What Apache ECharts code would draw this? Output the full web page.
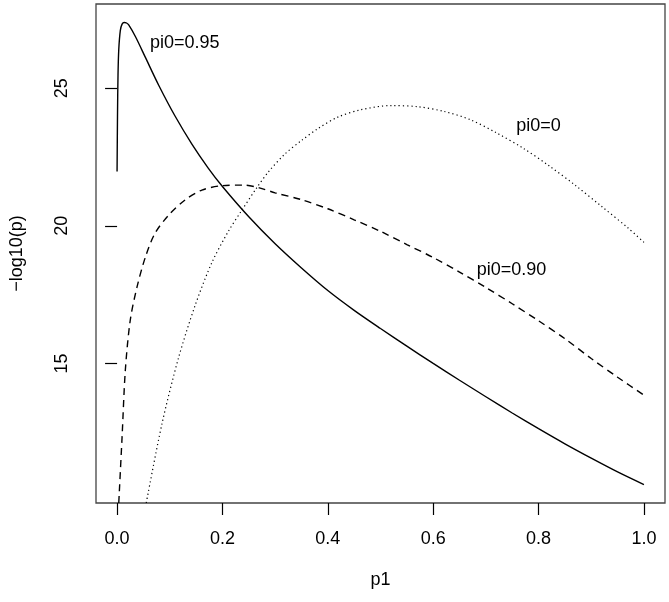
<!DOCTYPE html>
<html>
<head>
<meta charset="utf-8">
<script src="https://cdn.jsdelivr.net/npm/echarts@6/dist/echarts.min.js"></script>
<style>
html,body{margin:0;padding:0;background:#fff}
#chart{width:669px;height:602px}
</style>
</head>
<body>
<div id="chart"></div>
<script>
// tick marks
var xTicks = [0, 0.2, 0.4, 0.6, 0.8, 1.0];
var yTicks = [15, 20, 25];

// pi0=0.95 (solid)
var p1Solid  = [0, 0.0008, 0.0018, 0.0032, 0.0062, 0.0095, 0.0135, 0.018, 0.0221, 0.035, 0.054, 0.079, 0.11, 0.142, 0.173, 0.2, 0.25, 0.3, 0.35, 0.4, 0.45, 0.5, 0.55, 0.6, 0.65, 0.7, 0.75, 0.8, 0.85, 0.9, 0.95, 1.0];
var valSolid = [21.97, 24.0, 25.5, 26.4, 27.1, 27.33, 27.39, 27.37, 27.3, 26.87, 26.11, 25.11, 23.99, 22.97, 22.1, 21.43, 20.33, 19.35, 18.47, 17.65, 16.93, 16.27, 15.63, 15.0, 14.39, 13.79, 13.2, 12.63, 12.08, 11.56, 11.06, 10.6];

// pi0=0.90 (dashed)
var p1Dash  = [0.0032, 0.0095, 0.0157, 0.025, 0.038, 0.054, 0.072, 0.098, 0.129, 0.161, 0.2, 0.24, 0.27, 0.3, 0.35, 0.4, 0.45, 0.5, 0.55, 0.6, 0.65, 0.7, 0.75, 0.8, 0.85, 0.9, 0.95, 1.0];
var valDash = [9.93, 12.33, 14.76, 16.57, 17.79, 18.88, 19.73, 20.39, 20.94, 21.3, 21.46, 21.48, 21.38, 21.2, 20.95, 20.62, 20.22, 19.8, 19.32, 18.85, 18.32, 17.76, 17.17, 16.55, 15.9, 15.18, 14.5, 13.85];

// pi0=0 (dotted)
var p1Dot  = [0.0554, 0.0851, 0.1166, 0.148, 0.1796, 0.2112, 0.2363, 0.265, 0.2868, 0.318, 0.35, 0.381, 0.419, 0.463, 0.52, 0.57, 0.62, 0.67, 0.72, 0.77, 0.82, 0.87, 0.92, 0.97, 1.0];
var valDot = [9.93, 12.8, 15.2, 17.1, 18.65, 19.8, 20.55, 21.38, 21.95, 22.6, 23.1, 23.53, 23.95, 24.22, 24.37, 24.33, 24.16, 23.86, 23.38, 22.83, 22.18, 21.47, 20.7, 19.92, 19.4];

// curve labels
var labelText = ['pi0=0.95', 'pi0=0', 'pi0=0.90'];
var labelP1   = [0.1285, 0.80, 0.7486];
var labelVal  = [26.65, 23.63, 18.39];

var FONT = '"Liberation Sans", Arial, sans-serif';

function pairs(xs, ys){
    var out = [];
    for(var i = 0; i < xs.length; i++){
        out.push([xs[i], ys[i]]);
    }
    return out;
}

var chart = echarts.init(document.getElementById('chart'), null, {renderer: 'canvas'});

var option = {
    backgroundColor: '#fff',
    animation: false,
    grid: {
        left: 94, right: 4, top: 4, bottom: 99,
        show: true,
        borderColor: '#444',
        borderWidth: 1.3,
        backgroundColor: 'transparent'
    },
    xAxis: {
        type: 'value',
        min: -0.04,
        max: 1.04,
        name: 'p1',
        nameLocation: 'middle',
        nameGap: 68,
        nameTextStyle: {fontFamily: FONT, fontSize: 18, color: '#000'},
        axisLine: {show: false},
        splitLine: {show: false},
        axisTick: {show: true, customValues: xTicks, length: 12, inside: false, lineStyle: {color: '#000', width: 1.2}},
        axisLabel: {
            customValues: xTicks,
            margin: 27,
            fontFamily: FONT, fontSize: 18, color: '#000',
            formatter: function(v){ return v.toFixed(1); }
        }
    },
    yAxis: {
        type: 'value',
        min: 9.93,
        max: 28.06,
        name: '\u2212log10(p)',
        nameLocation: 'middle',
        nameGap: 70,
        nameTextStyle: {fontFamily: FONT, fontSize: 18, color: '#000'},
        axisLine: {show: false},
        splitLine: {show: false},
        axisTick: {show: true, customValues: yTicks, length: 12, inside: false, lineStyle: {color: '#000', width: 1.2}},
        axisLabel: {
            customValues: yTicks,
            rotate: 90,
            margin: 25,
            fontFamily: FONT, fontSize: 18, color: '#000'
        }
    },
    series: [
        {
            name: 'pi0=0.95',
            type: 'line',
            data: pairs(p1Solid, valSolid),
            showSymbol: false,
            smooth: 0.3,
            lineStyle: {color: '#000', width: 1.4, type: 'solid'}
        },
        {
            name: 'pi0=0.90',
            type: 'line',
            data: pairs(p1Dash, valDash),
            showSymbol: false,
            smooth: 0.3,
            lineStyle: {color: '#000', width: 1.4, type: [7, 5]}
        },
        {
            name: 'pi0=0',
            type: 'line',
            data: pairs(p1Dot, valDot),
            showSymbol: false,
            smooth: 0.3,
            lineStyle: {color: '#000', width: 1.2, type: [1.2, 3]}
        },
        {
            name: 'labels',
            type: 'scatter',
            symbolSize: 0,
            itemStyle: {opacity: 1},
            data: pairs(labelP1, labelVal).map(function(d, i){
                return {value: d, name: labelText[i]};
            }),
            label: {
                show: true,
                position: 'inside',
                formatter: '{b}',
                fontFamily: FONT, fontSize: 18, color: '#000',
                textBorderWidth: 0
            },
            emphasis: {disabled: true},
            silent: true
        }
    ]
};

chart.setOption(option);
</script>
</body>
</html>
